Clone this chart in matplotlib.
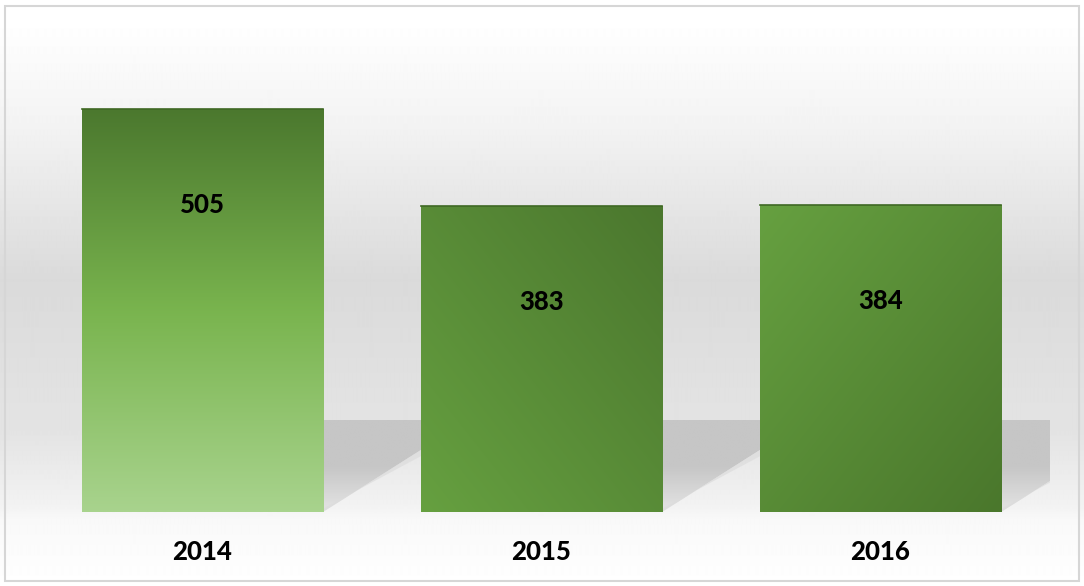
import numpy as np
import matplotlib
matplotlib.use("Agg")
import matplotlib.pyplot as plt
from matplotlib.patches import Polygon, Rectangle
from matplotlib.colors import LinearSegmentedColormap, to_rgb

years = ["2014", "2015", "2016"]
counts = [505, 383, 384]

plt.rcParams["font.family"] = ["Lato", "DejaVu Sans"]

W, H = 1084, 586
fig = plt.figure(figsize=(W / 100, H / 100), dpi=100)

# background: soft grey band behind the bars
bg = fig.add_axes([0, 0, 1, 1])
rows = np.arange(H)
stops_px = [0, 20, 120, 280, 415, 430, 505, 520, 586]
stops_v = [1.0, 1.0, 0.955, 0.855, 0.89, 0.89, 0.95, 0.975, 1.0]
shade = np.interp(rows, stops_px, stops_v)
bg.imshow(np.repeat(shade[:, None], 4, axis=1), cmap="gray", vmin=0, vmax=1,
          extent=[0, 1, 0, 1], aspect="auto", interpolation="bilinear")
bg.set_xlim(0, 1)
bg.set_ylim(0, 1)
bg.axis("off")
bg.add_patch(Rectangle((5 / W, 5 / H), 1 - 10 / W, 1 - 11 / H, fill=False,
                       edgecolor="#d6d6d6", linewidth=1.5, transform=bg.transAxes))

ax = fig.add_axes([32.5 / W, (H - 512) / H, (1050 - 32.5) / W, 479 / H])
ax.patch.set_alpha(0)
ax.set_xlim(-0.5, 2.5)
ax.set_ylim(0, 600)

bar_w = 0.711
bars = ax.bar(range(len(counts)), counts, width=bar_w, color="none", zorder=3)

# shadows to the right of every bar
shadow_cmap = LinearSegmentedColormap.from_list("sh", ["#e4e4e4", "#c6c6c6", "#c6c6c6"])
for b in bars:
    x0 = b.get_x() + b.get_width()
    dx = 0.29
    poly = Polygon([(x0, 0), (x0, 115), (x0 + dx, 115), (x0 + dx, 78)],
                   closed=True, facecolor="none", edgecolor="none")
    ax.add_patch(poly)
    g = np.linspace(0, 1, 60)[:, None]
    im = ax.imshow(np.repeat(g, 2, axis=1), cmap=shadow_cmap, extent=[x0, x0 + dx, 115, 0],
                   aspect="auto", interpolation="bilinear", zorder=1)
    im.set_clip_path(poly)
    # soft edge along the diagonal
    ax.add_patch(Polygon([(x0, 0), (x0 + dx, 78), (x0 + dx, 70), (x0, 4)], closed=True,
                         facecolor="#dcdcdc", edgecolor="none", alpha=0.7, zorder=1.5))

# gradient fills for the bars
def fill_bar(bar, img):
    x = bar.get_x()
    h = bar.get_height()
    im = ax.imshow(img, extent=[x, x + bar.get_width(), 0, h], aspect="auto",
                   interpolation="bilinear", zorder=2, origin="upper")
    im.set_clip_path(bar)


n = 100
# first bar: vertical, dark top -> bright middle -> pale bottom
c_top, c_mid, c_bot = map(np.array, (to_rgb("#4b782e"), to_rgb("#79b44e"), to_rgb("#a8d38d")))
t = np.linspace(0, 1, n)
col = np.where(t[:, None] < 0.5, c_top + (c_mid - c_top) * (t[:, None] / 0.5),
               c_mid + (c_bot - c_mid) * ((t[:, None] - 0.5) / 0.5))
fill_bar(bars[0], np.repeat(col[:, None, :], 2, axis=1))

# second bar: dark top-right -> lighter bottom-left
yy, xx = np.mgrid[0:1:n * 1j, 0:1:n * 1j]
d = np.clip((yy + (1 - xx)) / 2, 0, 1)[..., None]
ca, cb = np.array(to_rgb("#4b772e")), np.array(to_rgb("#66a040"))
fill_bar(bars[1], ca + (cb - ca) * d)

# third bar: lighter top-left -> dark bottom-right
d = np.clip((yy + xx) / 2, 0, 1)[..., None]
ca, cb = np.array(to_rgb("#66a040")), np.array(to_rgb("#4a772c"))
fill_bar(bars[2], ca + (cb - ca) * d)

for b in bars:
    ax.plot([b.get_x(), b.get_x() + b.get_width()], [b.get_height()] * 2,
            color="#3f6824", linewidth=1.2, zorder=4)

for i, v in enumerate(counts):
    ax.annotate(str(v), (i, v), xytext=(0, -96 * 0.72), textcoords="offset points",
                ha="center", va="center", fontsize=18.5, fontweight="black", color="black", zorder=5)

ax.set_xticks(range(len(years)), years)
ax.tick_params(axis="x", length=0, pad=20, labelsize=18.5)
for lbl in ax.get_xticklabels():
    lbl.set_fontweight("black")
ax.set_yticks([])
for s in ax.spines.values():
    s.set_visible(False)

fig.savefig("out.png", dpi=100)
